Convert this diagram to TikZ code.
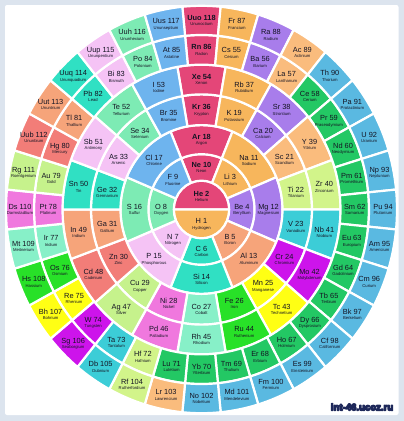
\documentclass[tikz,border=0pt]{standalone}
\usepackage{fontspec}
\setmainfont{Liberation Sans}
\definecolor{bgc}{RGB}{220,228,238}
\definecolor{nob}{RGB}{228,70,120}
\definecolor{alk}{RGB}{247,182,92}
\definecolor{ae}{RGB}{168,125,235}
\definecolor{bor}{RGB}{246,164,122}
\definecolor{car}{RGB}{48,224,195}
\definecolor{pn}{RGB}{245,195,245}
\definecolor{ch}{RGB}{125,235,180}
\definecolor{hal}{RGB}{110,180,238}
\definecolor{gthr}{RGB}{250,188,125}
\definecolor{gfour}{RGB}{210,244,138}
\definecolor{gfive}{RGB}{60,205,215}
\definecolor{gsix}{RGB}{205,20,235}
\definecolor{gsev}{RGB}{255,255,20}
\definecolor{geig}{RGB}{40,225,40}
\definecolor{gnin}{RGB}{135,240,200}
\definecolor{gten}{RGB}{240,120,222}
\definecolor{gele}{RGB}{198,242,140}
\definecolor{gtwe}{RGB}{242,125,120}
\definecolor{lan}{RGB}{35,200,100}
\definecolor{act}{RGB}{90,185,225}
\definecolor{txt}{RGB}{20,20,35}
\definecolor{wmc}{RGB}{30,40,90}
\tikzset{
  cellline/.style={draw=white, line width=2.2bp, line join=round},
  symt/.style={inner sep=0pt, text=txt, text height=5.3bp, text depth=0pt, font=\fontsize{7.4bp}{8bp}\selectfont},
  namet/.style={inner sep=0pt, text=txt, text height=3bp, text depth=0.9bp, font=\fontsize{4.2bp}{5bp}\selectfont},
  wm/.style={inner sep=0pt, font=\fontsize{9.6bp}{10bp}\selectfont\bfseries}
}
\newcommand\ringcells[5]{%
  \foreach \sy/\nm/\cl [count=\kk from 0] in {#5} {%
    \pgfmathsetmacro\angM{90-\kk*360/#4}%
    \pgfmathsetmacro\angA{\angM+180/#4}%
    \pgfmathsetmacro\angB{\angM-180/#4}%
    \pgfmathsetmacro\rmid{(#2+#3)/2}%
    \filldraw[cellline, fill=\cl] (\angA:#2) arc[start angle=\angA, end angle=\angB, radius=#2] -- (\angB:#3) arc[start angle=\angB, end angle=\angA, radius=#3] -- cycle;
    \node[symt, yshift=2.7bp] (#1s\kk) at (\angM:\rmid) {\sy};
    \node[namet, yshift=-4.3bp] (#1n\kk) at (\angM:\rmid) {\nm};
  }}
\begin{document}
\begin{tikzpicture}[x=1bp,y=1bp]
\fill[bgc] (0,0) rectangle (404,-421);
\fill[white, rounded corners=2bp] (5,-5) rectangle (398.5,-415);
\begin{scope}[shift={(201.5,-209.5)}, yscale=1.042]
  \filldraw[cellline, fill=nob] (0:27.7) arc[start angle=0, end angle=180, radius=27.7] -- cycle;
  \filldraw[cellline, fill=alk] (180:27.7) arc[start angle=180, end angle=360, radius=27.7] -- cycle;
  \node[symt] (he) at (0,15.2) {\textbf{He 2}};
  \node[namet] (hen) at (0,8.4) {Helium};
  \node[symt] (h) at (0,-11.3) {H 1};
  \node[namet] (hn) at (0,-18.4) {Hydrogen};
  \ringcells{ra}{27.7}{53.1}{8}{\textbf{Ne 10}/Neon/nob, Li 3/Lithium/alk, Be 4/Beryllium/ae, B 5/Boron/bor, C 6/Carbon/car, N 7/Nitrogen/pn, O 8/Oxygen/ch, F 9/Fluorine/hal}
  \ringcells{rb}{53.1}{81}{8}{\textbf{Ar 18}/Argon/nob, Na 11/Sodium/alk, Mg 12/Magnesium/ae, Al 13/Aluminum/bor, Si 14/Silicon/car, P 15/Phosphorous/pn, S 16/Sulfur/ch, Cl 17/Chlorine/hal}
  \ringcells{rc}{81}{110.5}{18}{\textbf{Kr 36}/Krypton/nob, K 19/Potassium/alk, Ca 20/Calcium/ae, Sc 21/Scandium/gthr, Ti 22/Titanium/gfour, V 23/Vanadium/gfive, Cr 24/Chromium/gsix, Mn 25/Manganese/gsev, Fe 26/Iron/geig, Co 27/Cobalt/gnin, Ni 28/Nickel/gten, Cu 29/Copper/gele, Zn 30/Zinc/gtwe, Ga 31/Gallium/bor, Ge 32/Germanium/car, As 33/Arsenic/pn, Se 34/Selenium/ch, Br 35/Bromine/hal}
  \ringcells{rd}{110.5}{139}{18}{\textbf{Xe 54}/Xenon/nob, Rb 37/Rubidium/alk, Sr 38/Strontium/ae, Y 39/Yttrium/gthr, Zr 40/Zirconium/gfour, Nb 41/Niobium/gfive, Mo 42/Molybdenum/gsix, Tc 43/Technetium/gsev, Ru 44/Ruthenium/geig, Rh 45/Rhodium/gnin, Pd 46/Palladium/gten, Ag 47/Silver/gele, Cd 48/Cadmium/gtwe, In 49/Indium/bor, Sn 50/Tin/car, Sb 51/Antimony/pn, Te 52/Tellurium/ch, I 53/Iodine/hal}
  \ringcells{re}{139}{167.5}{32}{\textbf{Rn 86}/Radon/nob, Cs 55/Cesium/alk, Ba 56/Barium/ae, La 57/Lanthanum/gthr, Ce 58/Cerium/lan, Pr 59/Praseodymium/lan, Nd 60/Neodymium/lan, Pm 61/Promethium/lan, Sm 62/Samarium/lan, Eu 63/Europium/lan, Gd 64/Gadolinium/lan, Tb 65/Terbium/lan, Dy 66/Dysprosium/lan, Ho 67/Holmium/lan, Er 68/Erbium/lan, Tm 69/Thulium/lan, Yb 70/Ytterbium/lan, Lu 71/Lutetium/lan, Hf 72/Hafnium/gfour, Ta 73/Tantalum/gfive, W 74/Tungsten/gsix, Re 75/Rhenium/gsev, Os 76/Osmium/geig, Ir 77/Iridium/gnin, Pt 78/Platinum/gten, Au 79/Gold/gele, Hg 80/Mercury/gtwe, Tl 81/Thallium/bor, Pb 82/Lead/car, Bi 83/Bismuth/pn, Po 84/Polonium/ch, At 85/Astatine/hal}
  \ringcells{rf}{167.5}{195.5}{32}{\textbf{Uuo 118}/Ununoctium/nob, Fr 87/Francium/alk, Ra 88/Radium/ae, Ac 89/Actinium/gthr, Th 90/Thorium/act, Pa 91/Protactinium/act, U 92/Uranium/act, Np 93/Neptunium/act, Pu 94/Plutonium/act, Am 95/Americium/act, Cm 96/Curium/act, Bk 97/Berkelium/act, Cf 98/Californium/act, Es 99/Einsteinium/act, Fm 100/Fermium/act, Md 101/Mendelevium/act, No 102/Nobelium/act, Lr 103/Lawrencium/gthr, Rf 104/Rutherfordium/gfour, Db 105/Dubnium/gfive, Sg 106/Seaborgium/gsix, Bh 107/Bohrium/gsev, Hs 108/Hassium/geig, Mt 109/Meitnerium/gnin, Ds 110/Darmstadtium/gten, Rg 111/Roentgenium/gele, Uub 112/Ununbium/gtwe, Uut 113/Ununtrium/bor, Uuq 114/Ununquadium/car, Uup 115/Ununpentium/pn, Uuh 116/Ununhexium/ch, Uus 117/Ununseptium/hal}
\end{scope}
\node[wm, text=white] (wm) at (362,-407) {\special{pdf:literal direct 0.118 0.157 0.353 RG 1 1 1 rg 1.3 w 1 j 2 Tr}int-46.ucoz.ru\special{pdf:literal direct 0 Tr}};
\end{tikzpicture}
\end{document}
